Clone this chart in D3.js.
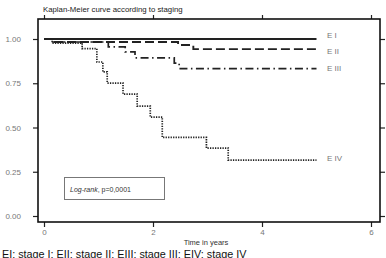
<!DOCTYPE html>
<html>
<head>
<meta charset="utf-8">
<script src="https://cdn.jsdelivr.net/npm/d3@7"></script>
<style>
  body { margin: 0; background: #fff; }
  svg { display: block; font-family: "Liberation Sans", Arial, sans-serif; }
</style>
</head>
<body>
<svg id="chart"></svg>
<script>
// tick values
var xTicks = [0, 2, 4, 6];
var yTicks = [0, 0.25, 0.5, 0.75, 1];

// Kaplan-Meier steps: [time in years, survival]
var stageI   = [[0, 1], [5.0, 1]];
var stageII  = [[0, 1], [0.15, 0.983], [2.46, 0.966], [2.74, 0.943], [5.0, 0.943]];
var stageIII = [[0, 1], [0.15, 0.983], [1.18, 0.955], [1.49, 0.927], [1.67, 0.893],
                [2.39, 0.864], [2.48, 0.833], [5.0, 0.833]];
var stageIV  = [[0, 1], [0.15, 0.977], [0.70, 0.946], [0.97, 0.870], [1.08, 0.814],
                [1.16, 0.751], [1.45, 0.689], [1.71, 0.621], [1.95, 0.559],
                [2.17, 0.444], [2.98, 0.384], [3.38, 0.316], [5.0, 0.316]];
var curveLabels = ["E I", "E II", "E III", "E IV"];

function init(){
    var w = 386, h = 258;
    var svg = d3.select("#chart").attr("width", w).attr("height", h);

    var xScale = d3.scaleLinear().domain([0, 6]).range([44, 371]);
    var yScale = d3.scaleLinear().domain([0, 1]).range([216, 39]);

    // frame
    var fx0 = 38, fx1 = 380, fy0 = 19, fy1 = 222;

    svg.append("text")
        .attr("x", 43).attr("y", 11.5)
        .attr("font-size", 7.8).attr("fill", "#222")
        .text("Kaplan-Meier curve according to staging");

    // axes with outward ticks on all four sides
    svg.append("g")
        .attr("transform", `translate(0,${fy1})`)
        .call(d3.axisBottom(xScale).tickValues(xTicks).tickFormat(d3.format("d")).tickSize(5).tickPadding(2))
        .call(g => g.select(".domain").remove());
    svg.append("g")
        .attr("transform", `translate(0,${fy0})`)
        .call(d3.axisTop(xScale).tickValues(xTicks).tickFormat("").tickSize(4))
        .call(g => g.select(".domain").remove());
    svg.append("g")
        .attr("transform", `translate(${fx0},0)`)
        .call(d3.axisLeft(yScale).tickValues(yTicks).tickFormat(d3.format(".2f")).tickSize(5).tickPadding(12))
        .call(g => g.select(".domain").remove());
    svg.append("g")
        .attr("transform", `translate(${fx1},0)`)
        .call(d3.axisRight(yScale).tickValues(yTicks).tickFormat("").tickSize(5))
        .call(g => g.select(".domain").remove());

    svg.selectAll(".tick line").attr("stroke", "#222").attr("stroke-width", 1.2);
    svg.selectAll(".tick text").attr("fill", "#777").attr("font-size", 8)
        .attr("font-family", "'Liberation Sans', Arial, sans-serif");

    svg.append("rect")
        .attr("x", fx0).attr("y", fy0)
        .attr("width", fx1 - fx0).attr("height", fy1 - fy0)
        .attr("fill", "none").attr("stroke", "#111").attr("stroke-width", 1.6);

    svg.append("text")
        .attr("x", 206).attr("y", 244.5)
        .attr("text-anchor", "middle")
        .attr("font-size", 7.5).attr("fill", "#333")
        .text("Time in years");

    var line = d3.line()
        .x(d => xScale(d[0]))
        .y(d => yScale(d[1]))
        .curve(d3.curveStepAfter);

    var series = [
        {data: stageI,   dash: null,            width: 1.8},
        {data: stageII,  dash: "9,4",           width: 1.9},
        {data: stageIII, dash: "8,3.5,1.5,3.5", width: 1.7},
        {data: stageIV,  dash: "1.3,1.2",       width: 1.7}
    ];
    series.forEach(function(s){
        svg.append("path")
            .datum(s.data)
            .attr("d", line)
            .attr("fill", "none")
            .attr("stroke", "#222")
            .attr("stroke-width", s.width)
            .attr("stroke-dasharray", s.dash);
    });

    var labelY = [35.5, 51, 68, 158];
    curveLabels.forEach(function(l, i){
        svg.append("text")
            .attr("x", 327).attr("y", labelY[i] + 2.8)
            .attr("font-size", 8).attr("fill", "#777")
            .text(l);
    });

    // log-rank box
    svg.append("rect")
        .attr("x", 64.5).attr("y", 177.5).attr("width", 100).attr("height", 22)
        .attr("fill", "#fff").attr("stroke", "#777").attr("stroke-width", 1);
    var lr = svg.append("text")
        .attr("x", 70).attr("y", 191.5)
        .attr("font-size", 7).attr("fill", "#333");
    lr.append("tspan").attr("font-style", "italic").text("Log-rank");
    lr.append("tspan").text(", p=0,0001");

    svg.append("text")
        .attr("x", 2).attr("y", 257.5)
        .attr("font-size", 10.8).attr("fill", "#111")
        .text("EI: stage I; EII: stage II; EIII: stage III; EIV: stage IV");
}
window.onload = init;
</script>
</body>
</html>
